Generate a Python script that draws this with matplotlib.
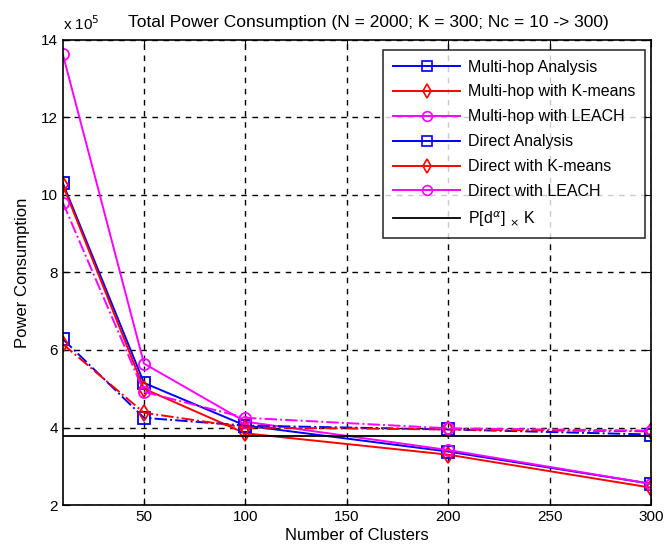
import numpy as np
import matplotlib
matplotlib.use('Agg')
import matplotlib.pyplot as plt
from matplotlib.lines import Line2D

# Number of clusters
clusters = [10, 50, 100, 200, 300]

# Power consumption, in units of 1e5
mh_analysis = [10.30, 5.15, 4.05, 3.38, 2.55]
mh_kmeans = [10.25, 5.00, 3.85, 3.30, 2.45]
mh_leach = [13.62, 5.65, 4.15, 3.42, 2.55]
direct_analysis = [6.28, 4.25, 4.05, 3.95, 3.82]
direct_kmeans = [6.15, 4.38, 4.00, 3.95, 3.90]
direct_leach = [9.80, 4.92, 4.25, 3.98, 3.92]
baseline = 3.78  # P[d^a] x K

labels = ['Multi-hop Analysis', 'Multi-hop with K-means', 'Multi-hop with LEACH',
          'Direct Analysis', 'Direct with K-means', 'Direct with LEACH']

plt.rcParams['font.family'] = ['Liberation Sans', 'DejaVu Sans']

fig = plt.figure(figsize=(6.69, 5.52), dpi=100)
ax = fig.add_axes([0.094, 0.085, 0.879, 0.843])

series = [mh_analysis, mh_kmeans, mh_leach, direct_analysis, direct_kmeans, direct_leach]
colors = ['#0000ff', '#ff0000', '#ff00ff'] * 2
markers = ['s', 'd', 'o'] * 2
styles = ['-'] * 3 + ['-.'] * 3

handles = []
for ys, c, m, ls, lab in zip(series, colors, markers, styles, labels):
    ax.plot(clusters, ys, color=c, linestyle=ls, marker=m, markersize=8,
            markerfacecolor='none', markeredgecolor=c, markeredgewidth=1.3,
            linewidth=1.4)
    # legend shows every entry with a solid line, as in the original
    handles.append(Line2D([], [], color=c, linestyle='-', marker=m, markersize=7,
                          markerfacecolor='none', markeredgecolor=c,
                          markeredgewidth=1.2, linewidth=1.4, label=lab))

ax.plot([clusters[0], clusters[-1]], [baseline, baseline], color='black',
        linewidth=1.3)
handles.append(Line2D([], [], color='black', linewidth=1.3,
                      label=r'P[d$^{\alpha}$] $_{\times}$ K'))

ax.set_xlim(10, 300)
ax.set_ylim(2, 14)
ax.set_xticks([50, 100, 150, 200, 250, 300])
ax.set_yticks([2, 4, 6, 8, 10, 12, 14])
ax.grid(True, color='black', linestyle=(0, (4, 4)), linewidth=1.0)
ax.tick_params(direction='in', top=True, right=True, labelsize=11, length=5)
for s in ax.spines.values():
    s.set_linewidth(1.2)

ax.set_xlabel('Number of Clusters', fontsize=12, labelpad=3)
ax.set_ylabel('Power Consumption', fontsize=12, labelpad=8)
ax.set_title('Total Power Consumption (N = 2000; K = 300; Nc = 10 -> 300)',
             fontsize=12.5, pad=9, x=0.52)
ax.text(0.0, 1.015, r'x 10$^5$', transform=ax.transAxes, fontsize=11,
        ha='left', va='bottom')

leg = ax.legend(handles=handles, loc='upper right', fontsize=11.5, frameon=True,
                fancybox=False, edgecolor='black', borderpad=0.6,
                labelspacing=0.62, handlelength=4.2, handletextpad=0.5,
                borderaxespad=0.0, bbox_to_anchor=(0.99, 0.978))
leg.get_frame().set_linewidth(1.2)

fig.savefig('out.png', dpi=100)
